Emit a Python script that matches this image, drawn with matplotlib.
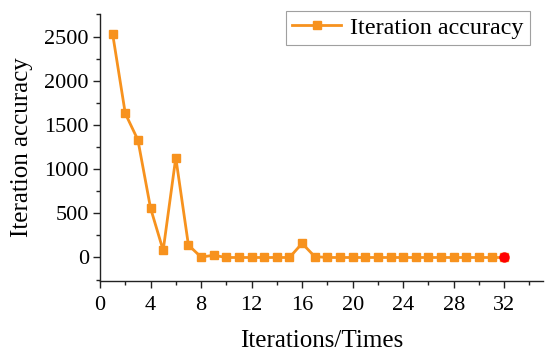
import matplotlib
matplotlib.use("Agg")
import matplotlib.pyplot as plt
from matplotlib.ticker import MultipleLocator

iterations = list(range(1, 33))
accuracy = [2530, 1630, 1330, 560, 80, 1130, 140, 5, 25, 0,
            0, 0, 0, 0, 0, 160, 10, 0, 0, 0,
            0, 0, 0, 0, 0, 0, 0, 0, 0, 0,
            0, 0]
x_label = "Iterations/Times"
y_label = "Iteration accuracy"
legend_label = "Iteration accuracy"

plt.rcParams['font.family'] = ['Liberation Serif', 'DejaVu Serif']

fig = plt.figure(figsize=(5.5, 3.59), dpi=100)
ax = fig.add_axes([100/550, 1-281/359, 443/550, 267/359])

orange = '#F7921E'
ax.plot(iterations, accuracy, color=orange, lw=2, marker='s', ms=5.5,
        mfc=orange, mec=orange, label=legend_label, zorder=3)
ax.plot(iterations[-1:], accuracy[-1:], 'o', color='#FF0000', ms=6.5, zorder=4)

ax.set_xlim(0, 35.07)
ax.set_ylim(-266, 2755)
ax.xaxis.set_major_locator(MultipleLocator(4))
ax.xaxis.set_minor_locator(MultipleLocator(2))
ax.yaxis.set_major_locator(MultipleLocator(500))
ax.yaxis.set_minor_locator(MultipleLocator(250))

for s in ['top', 'right']:
    ax.spines[s].set_visible(False)
for s in ['left', 'bottom']:
    ax.spines[s].set_linewidth(1.0)
    ax.spines[s].set_color('#222222')

ax.tick_params(which='major', direction='out', length=5, width=1, labelsize=16, color='#222222', pad=3)
ax.tick_params(axis='x', which='major', pad=5.5)
ax.tick_params(which='minor', direction='out', length=3, width=1, color='#222222')

ax.set_xlabel(x_label, fontsize=18, labelpad=11)
ax.set_ylabel(y_label, fontsize=18, labelpad=8)

leg = ax.legend(loc='upper right', bbox_to_anchor=(530/550, 1-11/359), bbox_transform=fig.transFigure,
                fontsize=17.4, frameon=True, fancybox=False, handlelength=2.0,
                borderpad=0.25, handletextpad=0.4, borderaxespad=0)
leg.get_frame().set_edgecolor('#888888')
leg.get_frame().set_linewidth(0.8)

fig.savefig('out.png', dpi=100)
